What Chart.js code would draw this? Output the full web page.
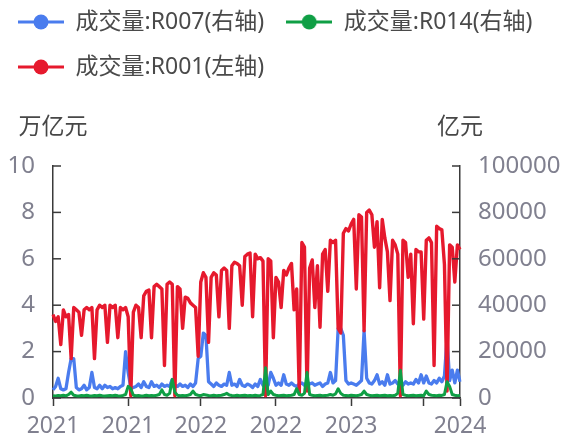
<!DOCTYPE html>
<html><head><meta charset="utf-8">
<script src="https://cdn.jsdelivr.net/npm/chart.js@4/dist/chart.umd.min.js"></script>
<style>html,body{margin:0;padding:0;background:#fff;}#wrap{width:563px;height:439px;}</style>
</head><body><div id="wrap"><canvas id="c" width="563" height="439" style="width:563px;height:439px"></canvas></div>
<script>
// weekly categories 2021-01-04 .. 2024-01-01
const categories = [];
(function(){ const t0 = Date.UTC(2021,0,4); for (let i=0;i<158;i++){ categories.push(new Date(t0 + i*7*86400000).toISOString().slice(0,10)); } })();

const seriesNames = ['成交量:R007(右轴)','成交量:R014(右轴)','成交量:R001(左轴)'];

// R001 成交量 (万亿元, left axis)
const r001 = [3.6,3.3,3.5,2.3,3.8,3.5,3.6,1.7,3.9,3.8,
 3.7,2.7,3.8,3.9,3.8,3.9,1.7,3.8,4.0,3.9,
 4.0,2.4,4.0,3.9,4.0,2.6,3.9,3.8,3.9,3.5,
 0.1,3.7,4.0,3.9,2.6,4.4,4.6,4.65,2.6,4.8,
 4.9,4.8,4.7,1.4,4.9,5.0,4.9,0.1,4.8,4.7,
 3.0,4.35,4.3,4.1,4.0,3.9,1.8,5.0,5.4,5.2,
 2.4,5.2,5.4,5.3,3.5,5.5,5.6,5.5,3.0,5.7,
 5.85,5.8,5.7,4.0,6.1,6.2,6.25,3.5,6.2,6.0,
 6.05,5.9,0.1,6.0,5.9,2.6,5.2,5.0,3.9,5.5,
 5.3,5.6,5.8,3.8,4.7,0.2,6.7,6.5,0.3,5.6,
 5.95,3.9,5.7,3.05,6.2,6.4,4.6,6.8,6.7,6.8,
 3.0,2.8,7.1,7.3,7.2,7.5,7.7,4.7,7.9,7.8,
 2.9,8.0,8.1,7.9,6.5,7.6,4.75,7.7,6.9,6.3,
 4.2,6.8,6.6,6.2,0.1,6.8,6.7,5.2,6.2,3.2,
 6.4,6.3,6.3,3.4,6.8,6.9,6.7,1.4,7.4,7.3,
 7.25,5.75,0.3,6.6,6.5,5.0,6.6,6.4];

// R007 成交量 (亿元, right axis)
const r007 = [3500,5000,8500,4000,3500,4000,11000,17000,17000,4500,
 3500,4000,5500,3500,4500,11000,4500,4000,5500,4000,
 5500,4500,5000,4000,4500,4000,5000,5500,20000,11000,
 4500,4500,5000,6000,4500,7000,5000,4500,7000,5000,
 5500,4500,6000,5000,5500,5000,8000,5500,5000,6000,
 5000,5500,4500,6000,5000,6500,17000,18000,28000,27000,
 7000,6000,5000,6500,5500,5000,6000,5500,11000,5500,
 6000,5000,8000,5500,5000,6000,5500,4500,6000,5000,
 8000,5500,8000,5500,11000,8500,5500,6500,5500,10000,
 6000,5500,6500,5500,5000,6000,6500,5500,7000,6000,
 6500,5500,6000,6500,5000,6000,6500,11000,6500,7500,
 30000,30000,27000,7500,6000,6500,6000,5500,6500,7500,
 29000,8500,6500,6000,7500,10000,6000,7000,5500,10000,
 6000,6500,7500,6000,6500,5500,7000,6000,6500,6000,
 8000,6500,10000,6500,9500,6500,6000,7500,6500,8500,
 7000,9500,26000,7500,12000,6500,12000,7000];

// R014 成交量 (亿元, right axis)
const r014 = [1000,900,1100,1000,1200,900,1500,2500,1200,1000,
 900,1100,1000,1200,1000,900,1100,1000,1200,1000,
 900,1000,1100,1000,1200,1000,900,1100,1500,5000,
 4000,1200,1000,1100,900,1000,1200,1000,1100,1000,
 1200,1500,3500,1500,1200,2000,8000,2500,1200,1000,
 1100,1000,1200,1500,3000,1500,1200,1000,1500,1300,
 1100,1000,1200,1000,1100,1200,1500,2000,1300,1100,
 1000,1200,1000,1100,1200,1000,1100,1000,1200,1000,
 1100,1500,13000,1500,3000,1500,1200,1000,1100,1200,
 1000,1100,1200,1500,4000,1500,1200,2000,11000,1500,
 1200,1000,1100,1200,1000,1100,1200,1500,1200,1800,
 4000,2000,1200,1100,1000,1200,1100,1000,1200,1500,
 3000,1500,1200,1000,1100,1200,1000,1100,1200,1000,
 1100,1000,1200,2000,12000,1500,1200,1000,1100,1200,
 1000,1100,1200,1000,3000,1500,1200,1100,1000,1200,
 1100,1500,7000,5000,1500,1200,1000,1100];

const xTickIndex = [0,29,57,86,115,143,157];
const xTickLabels = ['2021','2021','2022','2022','2023','','2024'];
const leftTitle = '万亿元';
const rightTitle = '亿元';

const C_BLUE = '#4a7cee', C_GREEN = '#0f9f45', C_RED = '#e6192d';
const AXIS = '#3a3a3a', TICK = '#80808f';

function legendIcon(color){
  const c = document.createElement('canvas'); c.width = 46; c.height = 18;
  const g = c.getContext('2d');
  g.strokeStyle = color; g.lineWidth = 3;
  g.beginPath(); g.moveTo(0,9); g.lineTo(46,9); g.stroke();
  g.fillStyle = color; g.beginPath(); g.arc(23,9,7.5,0,Math.PI*2); g.fill();
  return c;
}

const legendBox = {
  id: 'legendBox',
  beforeLayout(chart){
    const lg = chart.legend;
    if (lg && !lg._fixed){
      const fit = lg.fit;
      lg.fit = function(){ fit.call(this); this.height = 166; };
      lg._fixed = true;
    }
  },
  afterLayout(chart){
    const lg = chart.legend;
    if (lg){ lg.top -= 11.5; lg.left -= 4; }
  }
};

const axisDecor = {
  id: 'axisDecor',
  afterDatasetsDraw(chart){
    const {ctx} = chart; const ys = chart.scales.y, y1 = chart.scales.y1;
    ctx.save(); ctx.strokeStyle = AXIS; ctx.lineWidth = 1.5;
    ys.ticks.forEach(t => { const py = ys.getPixelForValue(t.value); ctx.beginPath(); ctx.moveTo(ys.right, py); ctx.lineTo(ys.right + 8, py); ctx.stroke(); });
    y1.ticks.forEach(t => { const py = y1.getPixelForValue(t.value); ctx.beginPath(); ctx.moveTo(y1.left, py); ctx.lineTo(y1.left - 8, py); ctx.stroke(); });
    ctx.restore();
  },
  afterDraw(chart){
    const {ctx, chartArea} = chart;
    ctx.save();
    ctx.font = '23px "Noto Sans CJK SC"'; ctx.fillStyle = '#474747';
    ctx.textAlign = 'center'; ctx.textBaseline = 'middle';
    ctx.fillText(leftTitle, chart.scales.y.right, chartArea.top - 41);
    ctx.fillText(rightTitle, chart.scales.y1.left, chartArea.top - 41);
    ctx.restore();
  }
};

const tickFont = {family: '"Noto Sans", "Noto Sans CJK SC"', size: 24};

new Chart(document.getElementById('c'), {
  type: 'line',
  data: {
    labels: categories,
    datasets: [
      {label: seriesNames[0], data: r007, yAxisID: 'y1', borderColor: C_BLUE, backgroundColor: C_BLUE, borderWidth: 3.3, pointRadius: 0, pointStyle: legendIcon(C_BLUE), order: 2},
      {label: seriesNames[1], data: r014, yAxisID: 'y1', borderColor: C_GREEN, backgroundColor: C_GREEN, borderWidth: 3, pointRadius: 0, pointStyle: legendIcon(C_GREEN), order: 0},
      {label: seriesNames[2], data: r001, yAxisID: 'y', borderColor: C_RED, backgroundColor: C_RED, borderWidth: 3.4, pointRadius: 0, pointStyle: legendIcon(C_RED), order: 1}
    ]
  },
  options: {
    responsive: false, animation: false, events: [],
    layout: {padding: 0},
    elements: {line: {tension: 0, borderJoinStyle: 'round'}},
    plugins: {
      tooltip: {enabled: false},
      legend: {
        position: 'top', align: 'start',
        labels: {
          usePointStyle: true, pointStyleWidth: 46, padding: 22, color: '#4a4a4a',
          font: {family: '"Noto Sans", "Noto Sans CJK SC"', size: 23},
          sort: (a, b) => a.datasetIndex - b.datasetIndex
        }
      }
    },
    scales: {
      x: {
        type: 'category', offset: false,
        grid: {display: true, drawOnChartArea: false, drawTicks: true, tickLength: 8, tickColor: AXIS, tickWidth: 1.5},
        border: {display: true, color: AXIS, width: 1.5},
        ticks: {autoSkip: false, maxRotation: 0, minRotation: 0, padding: 7, color: TICK, font: {family: '"Noto Sans"', size: 23},
          callback: (v, i) => xTickLabels[i]},
        afterBuildTicks: s => { s.ticks = xTickIndex.map(v => ({value: v})); },
        afterFit: s => { s.height = 41; }
      },
      y: {
        position: 'left', min: 0, max: 10,
        ticks: {stepSize: 2, padding: 18, color: TICK, font: tickFont, callback: v => String(v)},
        grid: {display: false, drawTicks: false},
        border: {display: true, color: AXIS, width: 1.5},
        afterFit: s => { s.width = 53; }
      },
      y1: {
        position: 'right', min: 0, max: 100000,
        ticks: {stepSize: 20000, padding: 18, color: TICK, font: tickFont, callback: v => String(v)},
        grid: {display: false, drawTicks: false},
        border: {display: true, color: AXIS, width: 1.5},
        afterFit: s => { s.width = 103; }
      }
    }
  },
  plugins: [legendBox, axisDecor]
});
</script>
</body></html>
